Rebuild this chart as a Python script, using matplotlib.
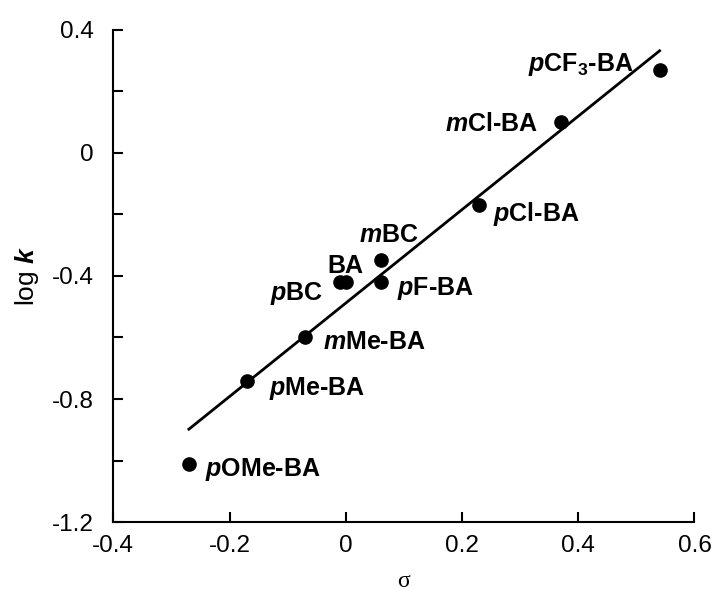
import numpy as np
import matplotlib
matplotlib.use('Agg')
import matplotlib.pyplot as plt
from matplotlib.ticker import FixedLocator

# Hammett plot data
labels = ['$\\mathbfit{p}$OMe-BA', '$\\mathbfit{p}$Me-BA', '$\\mathbfit{m}$Me-BA', '$\\mathbfit{p}$BC', 'BA',
          '$\\mathbfit{p}$F-BA', '$\\mathbfit{m}$BC', '$\\mathbfit{p}$Cl-BA', '$\\mathbfit{m}$Cl-BA',
          '$\\mathbfit{p}$CF$_\\mathbf{3}$-BA']
sigma = [-0.27, -0.17, -0.07, -0.01, 0.00, 0.06, 0.06, 0.23, 0.37, 0.54]
logk = [-1.01, -0.74, -0.60, -0.42, -0.42, -0.42, -0.35, -0.17, 0.10, 0.27]

xticks = [-0.4, -0.2, 0, 0.2, 0.4, 0.6]
xticklabels = ['-0.4', '-0.2', '0', '0.2', '0.4', '0.6']
yticks = [-1.2, -0.8, -0.4, 0, 0.4]
yticklabels = ['-1.2', '-0.8', '-0.4', '0', '0.4']

# label placement (offset in pixels from the point, horizontal alignment)
offsets = [(16, -3, 'left'), (21.6, -5, 'left'), (17.7, -3, 'left'), (-16.6, -9, 'right'),
           (0, 18, 'center'), (16.7, -4, 'left'), (8, 27, 'center'), (14, -6.7, 'left'),
           (-22.7, 0, 'right'), (-26, 8, 'right')]

plt.rcParams['font.family'] = ['Liberation Sans', 'DejaVu Sans']
plt.rcParams['mathtext.fontset'] = 'custom'
plt.rcParams['mathtext.rm'] = 'Liberation Sans'
plt.rcParams['mathtext.it'] = 'Liberation Sans:italic'
plt.rcParams['mathtext.bf'] = 'Liberation Sans:bold'
plt.rcParams['mathtext.bfit'] = 'Liberation Sans:bold:italic'

fig = plt.figure(figsize=(7.13, 5.92), dpi=100)
ax = fig.add_axes([0.159, 0.118, 0.815, 0.832])

# least squares line over the data range
slope, icpt = np.polyfit(sigma, logk, 1)
xs = np.array([min(sigma), max(sigma)])
ax.plot(xs, slope * xs + icpt, color='black', lw=2.0, zorder=2)
ax.plot(sigma, logk, 'o', color='black', ms=9.5, zorder=3)

px = 0.72  # points per pixel at 100 dpi
for lab, x, y, (dx, dy, ha) in zip(labels, sigma, logk, offsets):
    ax.annotate(lab, (x, y), xytext=(dx * px, (dy - 9) * px), textcoords='offset points',
                ha=ha, va='baseline', fontsize=18, fontweight='bold')

ax.set_xlim(-0.4, 0.6)
ax.set_ylim(-1.2, 0.4)
ax.set_xticks(xticks)
ax.set_xticklabels(xticklabels)
ax.set_yticks(yticks)
ax.set_yticklabels(yticklabels)
ax.yaxis.set_minor_locator(FixedLocator([-1.0, -0.6, -0.2, 0.2]))
ax.tick_params(which='both', direction='in', length=7.5, width=1.5, labelsize=17.5, pad=9)
ax.tick_params(axis='y', pad=14)

for s in ['top', 'right']:
    ax.spines[s].set_visible(False)
for s in ['left', 'bottom']:
    ax.spines[s].set_linewidth(1.5)

ax.set_xlabel('σ', fontsize=17, fontfamily='Liberation Serif', labelpad=10)
ax.set_ylabel('log $\\mathbfit{k}$', fontsize=19, labelpad=8)

fig.savefig('out.png', dpi=100)
